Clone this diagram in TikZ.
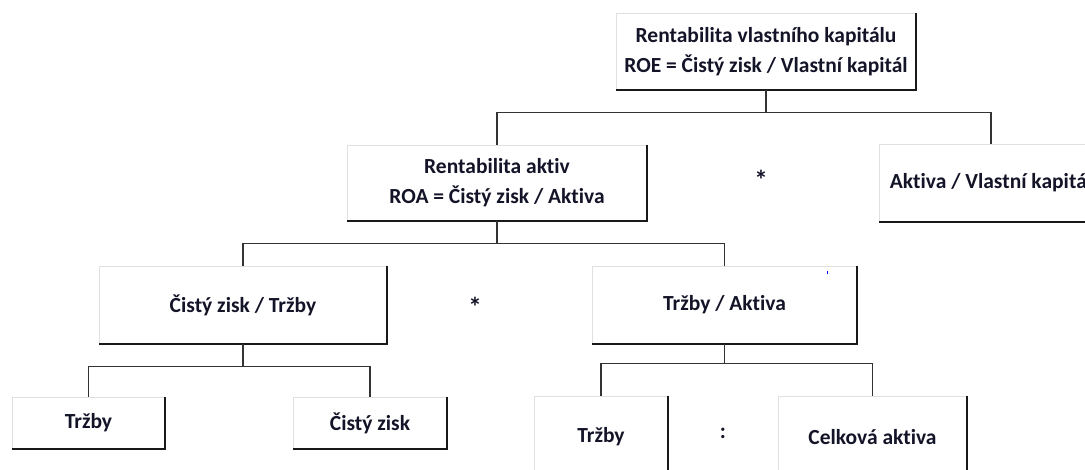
\documentclass[tikz,border=0pt]{standalone}
\usepackage{fontspec}
\setmainfont{Carlito}[Ligatures={NoCommon}]
\usetikzlibrary{calc}
\definecolor{txt}{rgb}{0.08,0.08,0.16}
\definecolor{ln}{rgb}{0.2,0.2,0.2}
\tikzset{
  bx/.style={draw=black!12, line width=0.6pt, fill=white, inner sep=0pt,
    align=center, font=\fontsize{21.5}{30}\selectfont\bfseries, text=txt},
  shd/.style={line width=2pt, draw=black!90},
  conn/.style={line width=1.2pt, draw=ln},
  sym/.style={font=\fontsize{27}{30}\selectfont\bfseries, text=txt, inner sep=0pt, anchor=base}
}
\newcommand{\shadowof}[1]{\draw[shd] (#1.north east) -- (#1.south east) -- (#1.south west);}
\begin{document}
\begin{tikzpicture}[x=1pt,y=-1pt]
\useasboundingbox (0,0) rectangle (1085,469);
\clip (0,0) rectangle (1085,469);
\fill[white] (0,0) rectangle (1085,469);
% boxes
\node[bx, minimum width=300pt, minimum height=77pt] (top) at (766,51.5)
  {Rentabilita vlastního kapitálu\\ROE = Čistý zisk / Vlastní kapitál};
\node[bx, minimum width=300pt, minimum height=76pt] (roa) at (497,183)
  {Rentabilita aktiv\\ROA = Čistý zisk / Aktiva};
\node[bx, minimum width=224pt, minimum height=78pt] (avk) at (991,183)
  {Aktiva / Vlastní kapitál};
\node[bx, minimum width=288pt, minimum height=78pt] (czt) at (243,305)
  {Čistý zisk / Tržby};
\node[bx, minimum width=265pt, minimum height=78pt] (ta) at (724.5,305)
  {Tržby / Aktiva};
\node[bx, minimum width=153pt, minimum height=52pt] (t1) at (88.5,423)
  {Tržby};
\node[bx, minimum width=154pt, minimum height=52pt] (cz) at (370,423)
  {Čistý zisk};
\node[bx, minimum width=134pt, minimum height=82pt] (t2) at (601,437)
  {Tržby};
\node[bx, minimum width=189pt, minimum height=82pt] (ca) at (872.5,437)
  {Celková aktiva};
\foreach \n in {top,roa,avk,czt,ta,t1,cz,t2,ca} {\shadowof{\n}}
% connectors
\coordinate (j1) at ($(top.south)+(0,22)$);
\draw[conn] (top.south) -- (j1);
\draw[conn] (roa.north) |- (j1) -| (avk.north);
\coordinate (j2) at ($(roa.south)+(0,22)$);
\draw[conn] (roa.south) -- (j2);
\draw[conn] (czt.north) |- (j2) -| (ta.north);
\coordinate (j3) at ($(czt.south)+(0,22)$);
\draw[conn] (czt.south) -- (j3);
\draw[conn] (t1.north) |- (j3) -| (cz.north);
\coordinate (j4) at ($(ta.south)+(0,19)$);
\draw[conn] (ta.south) -- (j4);
\draw[conn] (t2.north) |- (j4) -| (ca.north);
% operators
\node[sym] (m1) at (761,189) {*};
\node[sym] (m2) at (475,316) {*};
\node[sym, font=\fontsize{22}{24}\selectfont\bfseries] (d1) at (723,438) {:};
% stray dot
\fill[blue] (826.5,270.5) rectangle (828,273.5);
\end{tikzpicture}
\end{document}
